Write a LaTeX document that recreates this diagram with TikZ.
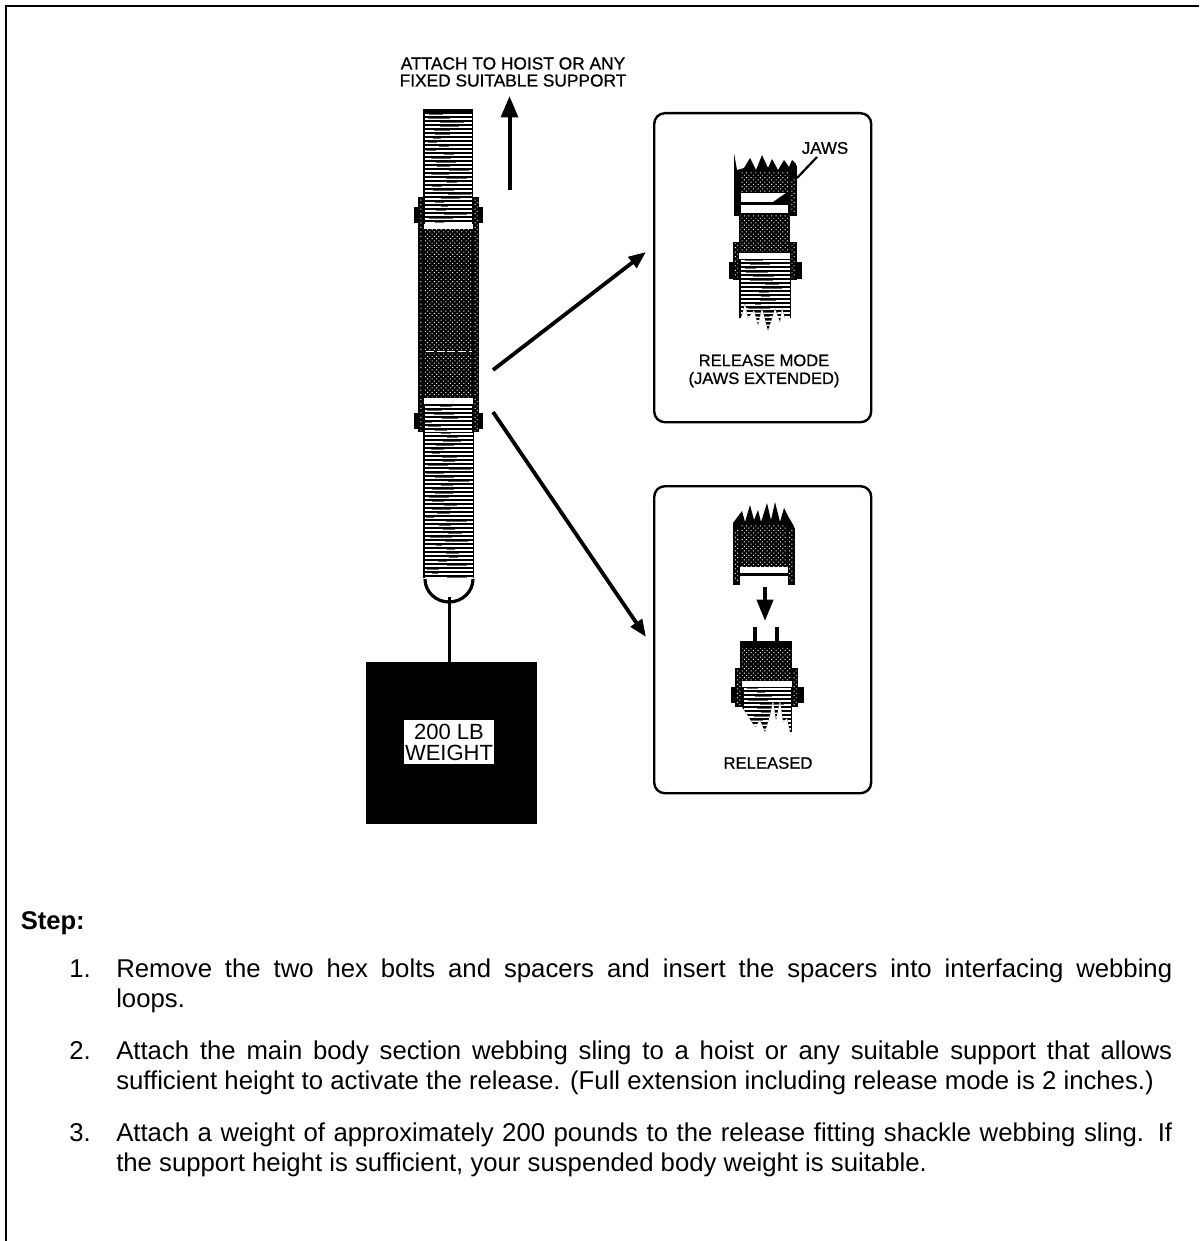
\documentclass[tikz,border=0pt]{standalone}
\usepackage{fontspec}
\setmainfont{Liberation Sans}
\usetikzlibrary{patterns.meta,arrows.meta}
\newfontfamily\scanfont[FakeBold=0.8]{Liberation Sans}
\newcommand{\bodyfont}{\fontsize{19.3pt}{22.9pt}\selectfont}
\tikzset{
  pxline/.style={line width=#1*0.75pt},
  frameline/.style={pxline=2.2,line cap=butt},
  panel/.style={draw=black,pxline=2.4,rounded corners=8pt},
  bigarrow/.style={pxline=3.8,-{Triangle[length=13pt,width=10pt]}},
  blockarrow/.style={pxline=4,-{Triangle[length=16pt,width=12.5pt]}},
  dots/.style={pattern={Dots[distance=2.4pt,radius=.52pt,angle=45]},pattern color=white},
  label/.style={font=\scanfont\fontsize{12.5pt}{13.2pt}\selectfont,align=center,inner sep=0pt},
  body/.style={font=\bodyfont,anchor=north west,inner sep=0pt,text width=792pt,align=justify},
  num/.style={font=\bodyfont,anchor=north west,inner sep=0pt},
}
% striped webbing: x1 y1 x2 y2
\newcommand{\webbing}[4]{%
  \fill[black] (#1,#2) rectangle (#3,#4);
  \pgfmathtruncatemacro{\nlines}{(#4-#2)/4}
  \foreach \i in {0,...,\nlines}{
    \draw[white,pxline=1.9] ({#1+1.5},{#2+2+4*\i}) -- ({#3-1.5},{#2+2+4*\i});
    \pgfmathsetmacro{\ax}{#1+2+rnd*(#3-#1-26)}
    \pgfmathsetmacro{\al}{6+rnd*18}
    \draw[black!60,pxline=0.9] (\ax,{#2+1.6+4*\i}) -- ({min(\ax+\al,#3-2)},{#2+1.6+4*\i});
  }
}
% stippled area: x1 y1 x2 y2
\newcommand{\stippled}[4]{%
  \fill[black] (#1,#2) rectangle (#3,#4);
  \fill[dots] ({#1+1},{#2+1}) rectangle ({#3-1},{#4-1});
}
% clamp band side column: x1 y1 x2 y2
\newcommand{\sidebar}[4]{%
  \fill[black] (#1,#2) rectangle (#3,#4);
  \fill[dots] ({#1+1.5},{#2+2}) rectangle ({#3-1.5},{#4-2});
}
\begin{document}
\begin{tikzpicture}[x=0.75pt,y=-0.75pt]
\pgfmathsetseed{7}
\useasboundingbox (0,0) rectangle (1199,1241);
\fill[white] (0,0) rectangle (1199,1241);
% page frame: top and left only
\coordinate (frameA) at (6,1241);
\coordinate (frameB) at (6,6);
\coordinate (frameC) at (1199,6);
\draw[frameline] (frameA) -- (frameB) -- (frameC);

% ===== main strap =====
\webbing{423}{109}{473}{578}
\fill[black] (423,109) rectangle (473,112);
\webbing{423}{432}{474}{578}
% upper clamp and stippled body
\sidebar{418}{197}{424}{432}
\sidebar{473}{197}{479}{432}
\fill[black] (424,229) rectangle (473,398);
\fill[dots] (425,230) rectangle (472,350);
\fill[dots] (425,352) rectangle (472,397);
\draw[white,pxline=1,dash pattern=on 6pt off 2pt] (426,351) -- (472,351);
\fill[white] (424,224) rectangle (473,229);
\fill[white] (424,398) rectangle (473,404);
% bolts
\fill[black] (414,207) rectangle (419,223);
\fill[black] (478,207) rectangle (483,223);
\fill[black] (414,413) rectangle (419,429);
\fill[black] (478,413) rectangle (483,429);
% loop and line to weight
\draw[black,pxline=3.2] (425,579) arc[start angle=180,end angle=360,x radius=24,y radius=-23];
\coordinate (loopIn) at (449,597);
\node[fill=black,draw=none,minimum width=128.25pt,minimum height=121.5pt,inner sep=0pt,anchor=north west] (weight) at (366,662) {};
\draw[black,pxline=3] (loopIn) -- (weight.north -| loopIn);
\node[fill=white,minimum width=67.5pt,minimum height=33pt,inner sep=0pt,align=center,font=\fontsize{16.5pt}{15.8pt}\selectfont] (weightlabel) at (449,742) {200 LB\\WEIGHT};

% up arrow and heading
\coordinate (upA) at (509.5,190);
\coordinate (upB) at (509.5,96);
\draw[blockarrow] (upA) -- (upB);
\node[label,font=\scanfont\fontsize{13pt}{12.8pt}\selectfont] (heading) at (513,72) {ATTACH TO HOIST OR ANY\\FIXED SUITABLE SUPPORT};

% connectors to details
\coordinate (strapR1) at (493,370);
\coordinate (strapR2) at (493,412);
\coordinate (tipA) at (646,252);
\coordinate (tipB) at (646,637);
\draw[bigarrow] (strapR1) -- (tipA);
\draw[bigarrow] (strapR2) -- (tipB);

% ===== panel 1 =====
\node[panel,minimum width=162.75pt,minimum height=231.75pt,anchor=north west,inner sep=0pt] (panelA) at (653,112) {};
\begin{scope}
  \clip (734,153) -- (737,170) -- (744,168) -- (750,158) -- (756,170) -- (762,155) -- (768,168) -- (772,159) -- (778,170) -- (784,160) -- (789,167) -- (792,160) -- (796,164) -- (797,166) -- (797,216) -- (734,216) -- cycle;
  \fill[black] (734,150) rectangle (797,216);
  \fill[dots] (741,173) rectangle (788,192);
\end{scope}
\fill[dots] (790,180) rectangle (795,213);
\fill[white] (741,193) rectangle (788,202);
\fill[white] (741,205) rectangle (788,213);
\fill[black] (773,202) -- (786,193) -- (788,193) -- (788,202) -- cycle;
\stippled{739}{215}{790}{243}
\sidebar{733}{242}{739}{280}
\sidebar{790}{242}{797}{280}
\stippled{739}{242}{790}{253}
\begin{scope}
  \clip (739,259) -- (791,259) -- (791,318) -- (785,318) -- (782,308) -- (780,322) -- (775,308) -- (768,331) -- (762,308) -- (758,325) -- (754,310) -- (748,318) -- (745,303) -- (741,318) -- (739,318) -- cycle;
  \webbing{739}{259}{791}{335}
\end{scope}
\fill[white] (741,253) rectangle (790,259);
\fill[black] (729,262) rectangle (734,279);
\fill[black] (797,262) rectangle (802,279);
\coordinate (jawsA) at (817,157);
\coordinate (jawsB) at (797,178);
\draw[black,pxline=2.2] (jawsA) -- (jawsB);
\node[label,font=\scanfont\fontsize{12.7pt}{13pt}\selectfont] (jaws) at (825,148) {JAWS};
\node[label,font=\scanfont\fontsize{12.4pt}{13.4pt}\selectfont] (relmode) at (764,371) {RELEASE MODE\\(JAWS EXTENDED)};

% ===== panel 2 =====
\node[panel,minimum width=162.75pt,minimum height=230.25pt,anchor=north west,inner sep=0pt] (panelB) at (653,485) {};
\begin{scope}
  \clip (733,523) -- (742,511) -- (745,522) -- (750,505) -- (754,520) -- (758,510) -- (761,522) -- (767,503) -- (771,520) -- (775,502) -- (780,522) -- (784,508) -- (788,516) -- (795,528) -- (795,585) -- (733,585) -- cycle;
  \fill[black] (733,500) rectangle (795,585);
  \fill[dots] (741,525) rectangle (787,566);
\end{scope}
\fill[dots] (735,530) rectangle (739,580);
\fill[dots] (789,530) rectangle (793,580);
\fill[white] (740,567) rectangle (788,573);
\fill[white] (740,576) rectangle (788,586);
\coordinate (dropA) at (765,587);
\coordinate (dropB) at (765,621);
\draw[black,pxline=4,-{Triangle[length=16pt,width=12pt]}] (dropA) -- (dropB);
\fill[black] (753,627) rectangle (757,642);
\fill[black] (775,627) rectangle (779,642);
\fill[black] (740,641) rectangle (792,681);
\fill[dots] (742,648) rectangle (790,680);
\sidebar{735}{668}{742}{707}
\sidebar{792}{668}{798}{707}
\begin{scope}
  \clip (742,687) -- (792,687) -- (792,732) -- (790,732) -- (787,718) -- (783,722) -- (780,700) -- (776,720) -- (773,700) -- (770,715) -- (765,732) -- (760,720) -- (755,727) -- (748,716) -- (742,707) -- cycle;
  \webbing{742}{687}{792}{735}
\end{scope}
\fill[white] (742,681) rectangle (792,687);
\fill[black] (731,687) rectangle (736,703);
\fill[black] (797,687) rectangle (804,703);
\node[label] (released) at (768,763) {RELEASED};

% ===== text =====
\node[anchor=base west,inner sep=0pt,font=\bfseries\fontsize{19.2pt}{22.9pt}\selectfont] (step) at (20.5,929) {Step:};
\node[num] (n1) at (69,955.6) {\strut 1.};
\node[body] (t1) at (116,955.6) {\strut Remove the two hex bolts and spacers and insert the spacers into interfacing webbing\linebreak loops.};
\node[num] (n2) at (69,1037.6) {\strut 2.};
\node[body] (t2) at (116,1037.6) {\strut Attach the main body section webbing sling to a hoist or any suitable support that allows\linebreak sufficient height to activate the release. (Full extension including release mode is 2 inches.)};
\node[num] (n3) at (69,1119.6) {\strut 3.};
\node[body] (t3) at (116,1119.6) {\strut Attach a weight of approximately 200 pounds to the release fitting shackle webbing sling. If\linebreak the support height is sufficient, your suspended body weight is suitable.};
\end{tikzpicture}
\end{document}
